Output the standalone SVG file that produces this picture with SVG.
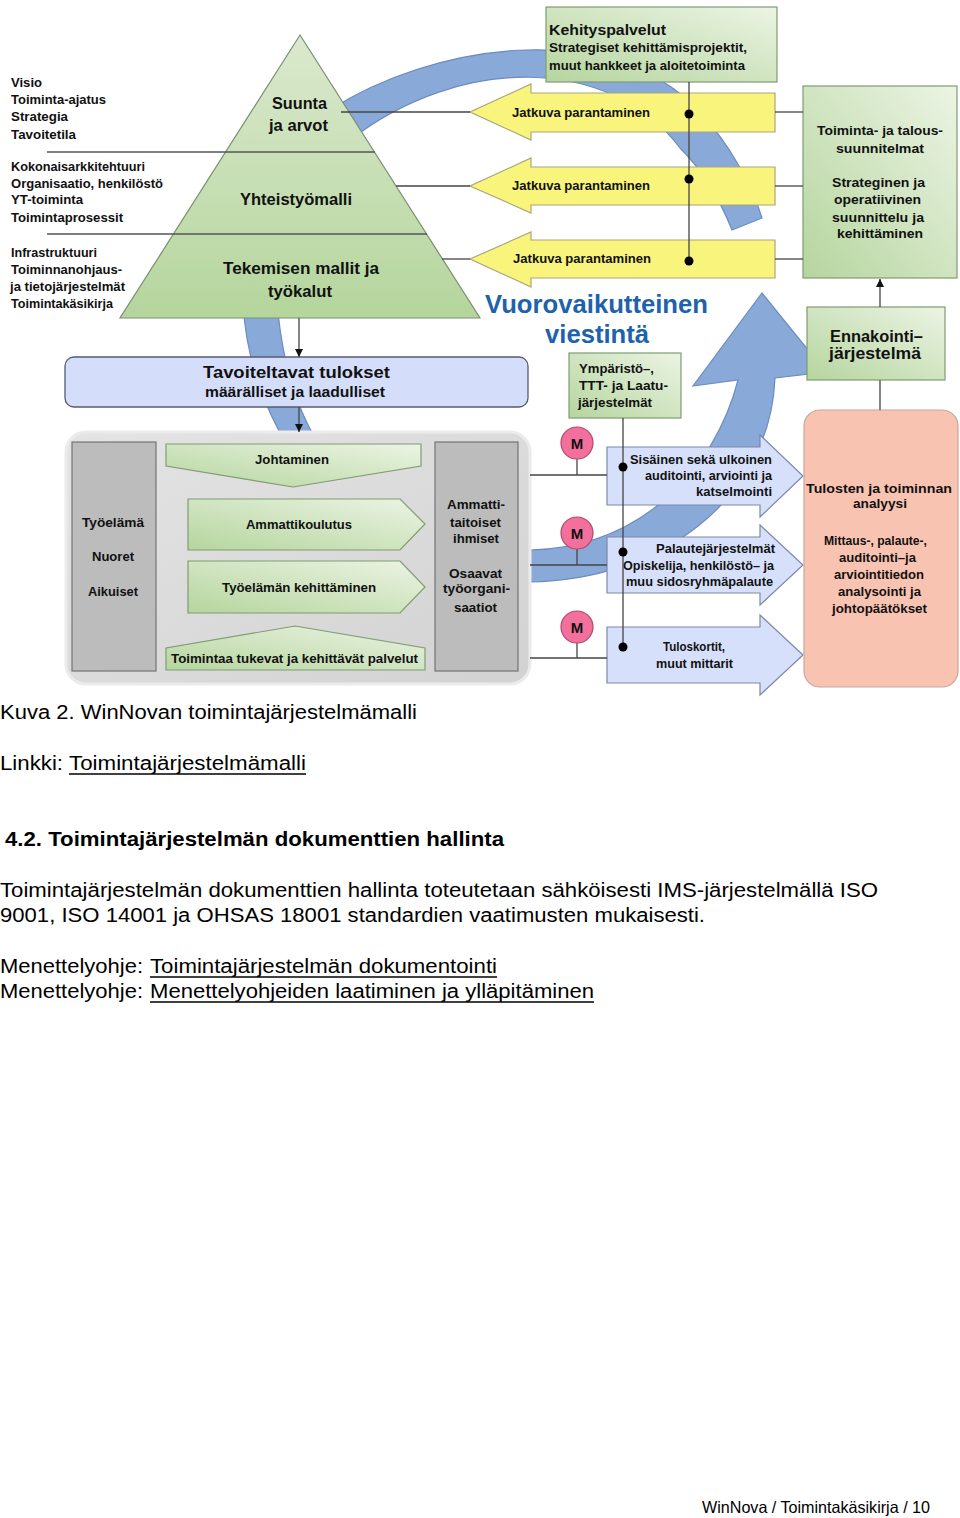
<svg xmlns="http://www.w3.org/2000/svg" width="960" height="1518" viewBox="0 0 960 1518">
<defs>
<linearGradient id="gB" x1="1" y1="0" x2="0" y2="1"><stop offset="0" stop-color="#ecf4e4"/><stop offset="1" stop-color="#b5d59e"/></linearGradient>
<linearGradient id="gP" x1="0" y1="0" x2="0" y2="1"><stop offset="0" stop-color="#dbe9ce"/><stop offset="1" stop-color="#b4d59c"/></linearGradient>
<linearGradient id="gG" x1="0" y1="0" x2="1" y2="1"><stop offset="0" stop-color="#e4e4e4"/><stop offset="1" stop-color="#d2d2d2"/></linearGradient>
<marker id="ah" viewBox="0 0 10 10" refX="10" refY="5" markerWidth="8" markerHeight="8" markerUnits="userSpaceOnUse" orient="auto"><path d="M0,0 L10,5 L0,10 z" fill="#111"/></marker>
</defs>
<style>
.b{font-family:"Liberation Sans",Arial,sans-serif;font-weight:bold;fill:#111}
.r{font-family:"Liberation Sans",Arial,sans-serif;fill:#000}
.s12{font-size:12.5px}.s13{font-size:13.5px}.s16{font-size:16.5px}
.grn{fill:url(#gB);stroke:#7f9c72;stroke-width:1.2}
.yel{fill:#f9f47c;stroke:#a9a67c;stroke-width:1.2}
.blu{fill:#d7e0fa;stroke:#7d88a8;stroke-width:1.2}
.arc{fill:#89a9d8;stroke:#6c8cbf;stroke-width:1.2}
.ln{stroke:#444;stroke-width:1.3;fill:none}
.dot{fill:#000}
.mc{fill:#f2709b;stroke:#b2486a;stroke-width:1.2}
.col{fill:#bcbcbc;stroke:#747474;stroke-width:1.2}
</style>
<rect x="0" y="0" width="960" height="1518" fill="#fff"/>

<g id="cycle">
<path class="arc" d="M330,110 C430,45 610,15 700,112 C730,145 752,185 762,218 L732,230 C718,195 700,168 680,148 C610,55 460,55 350,140 Z"/>
<path class="arc" d="M243,300 C248,440 360,585 530,582 C660,580 770,500 775,378 L826,372 L762,293 L693,386 L738,380 C715,470 640,548 530,550 C400,552 290,480 277,300 Z"/>
</g>

<g id="pyramid">
<polygon points="300,35 480,318 120,318" fill="url(#gP)" stroke="#7a8f70" stroke-width="1.2"/>
<line x1="47" y1="152" x2="375" y2="152" stroke="#555" stroke-width="1.3"/>
<line x1="47" y1="234" x2="427" y2="234" stroke="#555" stroke-width="1.3"/>
<text class="b s16" x="272" y="109" textLength="55" lengthAdjust="spacingAndGlyphs">Suunta</text>
<text class="b s16" x="269" y="131" textLength="59" lengthAdjust="spacingAndGlyphs">ja arvot</text>
<text class="b s16" x="240" y="205" textLength="112" lengthAdjust="spacingAndGlyphs">Yhteistyömalli</text>
<text class="b s16" x="223" y="274" textLength="156" lengthAdjust="spacingAndGlyphs">Tekemisen mallit ja</text>
<text class="b s16" x="268" y="297" textLength="64" lengthAdjust="spacingAndGlyphs">työkalut</text>
</g>

<g id="left-list">
<text class="b s12" x="11" y="87" textLength="31" lengthAdjust="spacingAndGlyphs">Visio</text>
<text class="b s12" x="11" y="104" textLength="95" lengthAdjust="spacingAndGlyphs">Toiminta-ajatus</text>
<text class="b s12" x="11" y="121" textLength="57" lengthAdjust="spacingAndGlyphs">Strategia</text>
<text class="b s12" x="11" y="139" textLength="65" lengthAdjust="spacingAndGlyphs">Tavoitetila</text>
<text class="b s12" x="11" y="171" textLength="134" lengthAdjust="spacingAndGlyphs">Kokonaisarkkitehtuuri</text>
<text class="b s12" x="11" y="188" textLength="152" lengthAdjust="spacingAndGlyphs">Organisaatio, henkilöstö</text>
<text class="b s12" x="11" y="204" textLength="72" lengthAdjust="spacingAndGlyphs">YT-toiminta</text>
<text class="b s12" x="11" y="222" textLength="112" lengthAdjust="spacingAndGlyphs">Toimintaprosessit</text>
<text class="b s12" x="11" y="257" textLength="86" lengthAdjust="spacingAndGlyphs">Infrastruktuuri</text>
<text class="b s12" x="11" y="274" textLength="111" lengthAdjust="spacingAndGlyphs">Toiminnanohjaus-</text>
<text class="b s12" x="10" y="291" textLength="115" lengthAdjust="spacingAndGlyphs">ja tietojärjestelmät</text>
<text class="b s12" x="11" y="308" textLength="102" lengthAdjust="spacingAndGlyphs">Toimintakäsikirja</text>
</g>

<g id="kehityspalvelut">
<rect class="grn" x="546" y="7" width="231" height="75"/>
<text class="b" font-size="15.5" x="549" y="35" textLength="117" lengthAdjust="spacingAndGlyphs">Kehityspalvelut</text>
<text class="b s12" x="549" y="52" textLength="198" lengthAdjust="spacingAndGlyphs">Strategiset  kehittämisprojektit,</text>
<text class="b s12" x="549" y="70" textLength="196" lengthAdjust="spacingAndGlyphs">muut hankkeet  ja aloitetoiminta</text>
</g>

<g id="jatkuva-1">
<path class="yel" d="M775,93 H531 V84 L470,112 L531,140 V132 H775 Z"/>
<text class="b s12" x="512" y="117" textLength="138" lengthAdjust="spacingAndGlyphs">Jatkuva parantaminen</text>
</g>
<g id="jatkuva-2">
<path class="yel" d="M775,167 H531 V158 L470,186 L531,213 V205 H775 Z"/>
<text class="b s12" x="512" y="190" textLength="138" lengthAdjust="spacingAndGlyphs">Jatkuva parantaminen</text>
</g>
<g id="jatkuva-3">
<path class="yel" d="M775,240 H531 V232 L470,259 L531,287 V278 H775 Z"/>
<text class="b s12" x="513" y="263" textLength="138" lengthAdjust="spacingAndGlyphs">Jatkuva parantaminen</text>
</g>

<g id="suunnitelmat">
<rect class="grn" x="803" y="86" width="154" height="192"/>
<text class="b s13" x="817" y="135" textLength="126" lengthAdjust="spacingAndGlyphs">Toiminta- ja talous-</text>
<text class="b s13" x="836" y="153" textLength="88" lengthAdjust="spacingAndGlyphs">suunnitelmat</text>
<text class="b s13" x="832" y="187" textLength="93" lengthAdjust="spacingAndGlyphs">Strateginen ja</text>
<text class="b s13" x="834" y="204" textLength="87" lengthAdjust="spacingAndGlyphs">operatiivinen</text>
<text class="b s13" x="832" y="222" textLength="92" lengthAdjust="spacingAndGlyphs">suunnittelu ja</text>
<text class="b s13" x="837" y="238" textLength="86" lengthAdjust="spacingAndGlyphs">kehittäminen</text>
</g>

<g id="viestinta">
<text class="b" font-size="25" fill="#1e62ad" style="fill:#1e62ad" x="485" y="313" textLength="223" lengthAdjust="spacingAndGlyphs">Vuorovaikutteinen</text>
<text class="b" font-size="25" style="fill:#1e62ad" x="545" y="343" textLength="104" lengthAdjust="spacingAndGlyphs">viestintä</text>
</g>

<g id="ennakointi">
<rect class="grn" x="807" y="307" width="138" height="73"/>
<text class="b s16" x="830" y="342" textLength="93" lengthAdjust="spacingAndGlyphs">Ennakointi–</text>
<text class="b s16" x="829" y="359" textLength="92" lengthAdjust="spacingAndGlyphs">järjestelmä</text>
</g>

<g id="tavoiteltavat">
<rect x="65" y="357" width="463" height="50" rx="9" fill="#d4defa" stroke="#555c70" stroke-width="1.3"/>
<text class="b" font-size="17" x="203" y="378" textLength="187" lengthAdjust="spacingAndGlyphs">Tavoiteltavat  tulokset</text>
<text class="b" font-size="14.5" x="205" y="397" textLength="180" lengthAdjust="spacingAndGlyphs">määrälliset ja laadulliset</text>
</g>

<g id="ymparisto">
<rect class="grn" x="569" y="353" width="112" height="65"/>
<text class="b s12" x="579" y="373" textLength="75" lengthAdjust="spacingAndGlyphs">Ympäristö–,</text>
<text class="b s12" x="579" y="390" textLength="89" lengthAdjust="spacingAndGlyphs">TTT- ja Laatu-</text>
<text class="b s12" x="578" y="407" textLength="74" lengthAdjust="spacingAndGlyphs">järjestelmät</text>
</g>

<g id="toiminta-kehys">
<rect x="66" y="432" width="464" height="252" rx="20" fill="url(#gG)" stroke="#ebebeb" stroke-width="3"/>
<rect class="col" x="72" y="442" width="84" height="229"/>
<rect class="col" x="435" y="442" width="83" height="229"/>
<path class="grn" d="M166,444 H421 V466 L293,487 L166,466 Z"/>
<path class="grn" d="M188,499 H400 L425,524 L400,550 H188 Z"/>
<path class="grn" d="M188,561 H400 L425,587 L400,613 H188 Z"/>
<path class="grn" d="M166,670 H425 V648 L295,626 L166,648 Z"/>
<text class="b s12" x="255" y="464" textLength="74" lengthAdjust="spacingAndGlyphs">Johtaminen</text>
<text class="b s12" x="246" y="529" textLength="106" lengthAdjust="spacingAndGlyphs">Ammattikoulutus</text>
<text class="b s12" x="222" y="592" textLength="154" lengthAdjust="spacingAndGlyphs">Työelämän kehittäminen</text>
<text class="b s12" x="171" y="663" textLength="247" lengthAdjust="spacingAndGlyphs">Toimintaa tukevat ja kehittävät palvelut</text>
<text class="b s12" x="82" y="527" textLength="62" lengthAdjust="spacingAndGlyphs">Työelämä</text>
<text class="b s12" x="92" y="561" textLength="42" lengthAdjust="spacingAndGlyphs">Nuoret</text>
<text class="b s12" x="88" y="596" textLength="50" lengthAdjust="spacingAndGlyphs">Aikuiset</text>
<text class="b s12" x="447" y="509" textLength="58" lengthAdjust="spacingAndGlyphs">Ammatti-</text>
<text class="b s12" x="450" y="527" textLength="51" lengthAdjust="spacingAndGlyphs">taitoiset</text>
<text class="b s12" x="453" y="543" textLength="46" lengthAdjust="spacingAndGlyphs">ihmiset</text>
<text class="b s12" x="449" y="578" textLength="53" lengthAdjust="spacingAndGlyphs">Osaavat</text>
<text class="b s12" x="443" y="593" textLength="67" lengthAdjust="spacingAndGlyphs">työorgani-</text>
<text class="b s12" x="454" y="612" textLength="43" lengthAdjust="spacingAndGlyphs">saatiot</text>
</g>

<g id="auditointi">
<path class="blu" d="M607,447 H760 V435 L803,476 L760,517 V505 H607 Z"/>
<text class="b s12" x="630" y="464" textLength="142" lengthAdjust="spacingAndGlyphs">Sisäinen sekä ulkoinen</text>
<text class="b s12" x="645" y="480" textLength="127" lengthAdjust="spacingAndGlyphs">auditointi, arviointi ja</text>
<text class="b s12" x="696" y="496" textLength="76" lengthAdjust="spacingAndGlyphs">katselmointi</text>
</g>
<g id="palaute">
<path class="blu" d="M607,537 H760 V525 L803,565 L760,605 V593 H607 Z"/>
<text class="b s12" x="656" y="553" textLength="119" lengthAdjust="spacingAndGlyphs">Palautejärjestelmät</text>
<text class="b s12" x="623" y="570" textLength="151" lengthAdjust="spacingAndGlyphs">Opiskelija, henkilöstö– ja</text>
<text class="b s12" x="626" y="586" textLength="147" lengthAdjust="spacingAndGlyphs">muu sidosryhmäpalaute</text>
</g>
<g id="tuloskortit">
<path class="blu" d="M607,627 H760 V615 L803,655 L760,695 V683 H607 Z"/>
<text class="b s12" x="663" y="651" textLength="62" lengthAdjust="spacingAndGlyphs">Tuloskortit,</text>
<text class="b s12" x="656" y="668" textLength="77" lengthAdjust="spacingAndGlyphs">muut mittarit</text>
</g>

<g id="analyysi">
<rect x="804" y="410" width="154" height="277" rx="16" fill="#f9c3b2" stroke="#c8a79c" stroke-width="1.2"/>
<text class="b s13" x="806" y="493" textLength="146" lengthAdjust="spacingAndGlyphs">Tulosten ja toiminnan</text>
<text class="b s13" x="853" y="508" textLength="54" lengthAdjust="spacingAndGlyphs">analyysi</text>
<text class="b s12" x="824" y="545" textLength="103" lengthAdjust="spacingAndGlyphs">Mittaus-, palaute-,</text>
<text class="b s12" x="839" y="562" textLength="77" lengthAdjust="spacingAndGlyphs">auditointi–ja</text>
<text class="b s12" x="834" y="579" textLength="90" lengthAdjust="spacingAndGlyphs">arviointitiedon</text>
<text class="b s12" x="838" y="596" textLength="83" lengthAdjust="spacingAndGlyphs">analysointi ja</text>
<text class="b s12" x="832" y="613" textLength="95" lengthAdjust="spacingAndGlyphs">johtopäätökset</text>
</g>

<g id="connectors">
<line class="ln" x1="341" y1="112" x2="470" y2="112"/>
<line class="ln" x1="396" y1="186" x2="470" y2="186"/>
<line class="ln" x1="442" y1="259" x2="470" y2="259"/>
<line class="ln" x1="775" y1="112" x2="803" y2="112"/>
<line class="ln" x1="775" y1="186" x2="803" y2="186"/>
<line class="ln" x1="775" y1="259" x2="803" y2="259"/>
<line class="ln" x1="689" y1="82" x2="689" y2="261"/>
<circle class="dot" cx="689" cy="114" r="4.5"/>
<circle class="dot" cx="689" cy="179" r="4.5"/>
<circle class="dot" cx="689" cy="261" r="4.5"/>
<line class="ln" x1="880" y1="307" x2="880" y2="279" marker-end="url(#ah)"/>
<line class="ln" x1="880" y1="410" x2="880" y2="380"/>
<line class="ln" x1="299" y1="318" x2="299" y2="357" marker-end="url(#ah)"/>
<line class="ln" x1="299" y1="407" x2="299" y2="432" marker-end="url(#ah)"/>
<line class="ln" x1="577" y1="459" x2="577" y2="475"/>
<line class="ln" x1="530" y1="475" x2="607" y2="475"/>
<line class="ln" x1="577" y1="549" x2="577" y2="565"/>
<line class="ln" x1="530" y1="565" x2="607" y2="565"/>
<line class="ln" x1="577" y1="643" x2="577" y2="658"/>
<line class="ln" x1="530" y1="658" x2="607" y2="658"/>
<line class="ln" x1="623" y1="418" x2="623" y2="647"/>
<circle class="dot" cx="623" cy="467" r="4.5"/>
<circle class="dot" cx="623" cy="552" r="4.5"/>
<circle class="dot" cx="623" cy="647" r="4.5"/>
</g>

<g id="m1"><circle class="mc" cx="577" cy="443" r="16"/><text class="b" font-size="15" x="577" y="449" text-anchor="middle">M</text></g>
<g id="m2"><circle class="mc" cx="577" cy="533" r="16"/><text class="b" font-size="15" x="577" y="539" text-anchor="middle">M</text></g>
<g id="m3"><circle class="mc" cx="577" cy="627" r="16"/><text class="b" font-size="15" x="577" y="633" text-anchor="middle">M</text></g>

<g id="document-text">
<text class="r" font-size="19.5" x="0" y="719" textLength="417" lengthAdjust="spacingAndGlyphs">Kuva 2. WinNovan toimintajärjestelmämalli</text>
<text class="r" font-size="19.5" x="0" y="770" textLength="63" lengthAdjust="spacingAndGlyphs">Linkki:</text>
<text class="r" font-size="19.5" x="69" y="770" textLength="237" lengthAdjust="spacingAndGlyphs">Toimintajärjestelmämalli</text>
<line x1="69" y1="774" x2="306" y2="774" stroke="#000" stroke-width="1.5"/>
<text class="r" font-size="19.5" font-weight="bold" x="5" y="846" textLength="499" lengthAdjust="spacingAndGlyphs">4.2. Toimintajärjestelmän dokumenttien hallinta</text>
<text class="r" font-size="19.5" x="0" y="897" textLength="878" lengthAdjust="spacingAndGlyphs">Toimintajärjestelmän dokumenttien hallinta toteutetaan sähköisesti IMS-järjestelmällä ISO</text>
<text class="r" font-size="19.5" x="0" y="922" textLength="705" lengthAdjust="spacingAndGlyphs">9001, ISO 14001 ja OHSAS 18001 standardien vaatimusten mukaisesti.</text>
<text class="r" font-size="19.5" x="0" y="973" textLength="143" lengthAdjust="spacingAndGlyphs">Menettelyohje:</text>
<text class="r" font-size="19.5" x="150" y="973" textLength="347" lengthAdjust="spacingAndGlyphs">Toimintajärjestelmän dokumentointi</text>
<line x1="150" y1="977" x2="497" y2="977" stroke="#000" stroke-width="1.5"/>
<text class="r" font-size="19.5" x="0" y="998" textLength="143" lengthAdjust="spacingAndGlyphs">Menettelyohje:</text>
<text class="r" font-size="19.5" x="150" y="998" textLength="444" lengthAdjust="spacingAndGlyphs">Menettelyohjeiden laatiminen ja ylläpitäminen</text>
<line x1="150" y1="1002" x2="594" y2="1002" stroke="#000" stroke-width="1.5"/>
<text class="r" font-size="16.5" x="702" y="1513" textLength="228" lengthAdjust="spacingAndGlyphs">WinNova / Toimintakäsikirja / 10</text>
</g>
</svg>
